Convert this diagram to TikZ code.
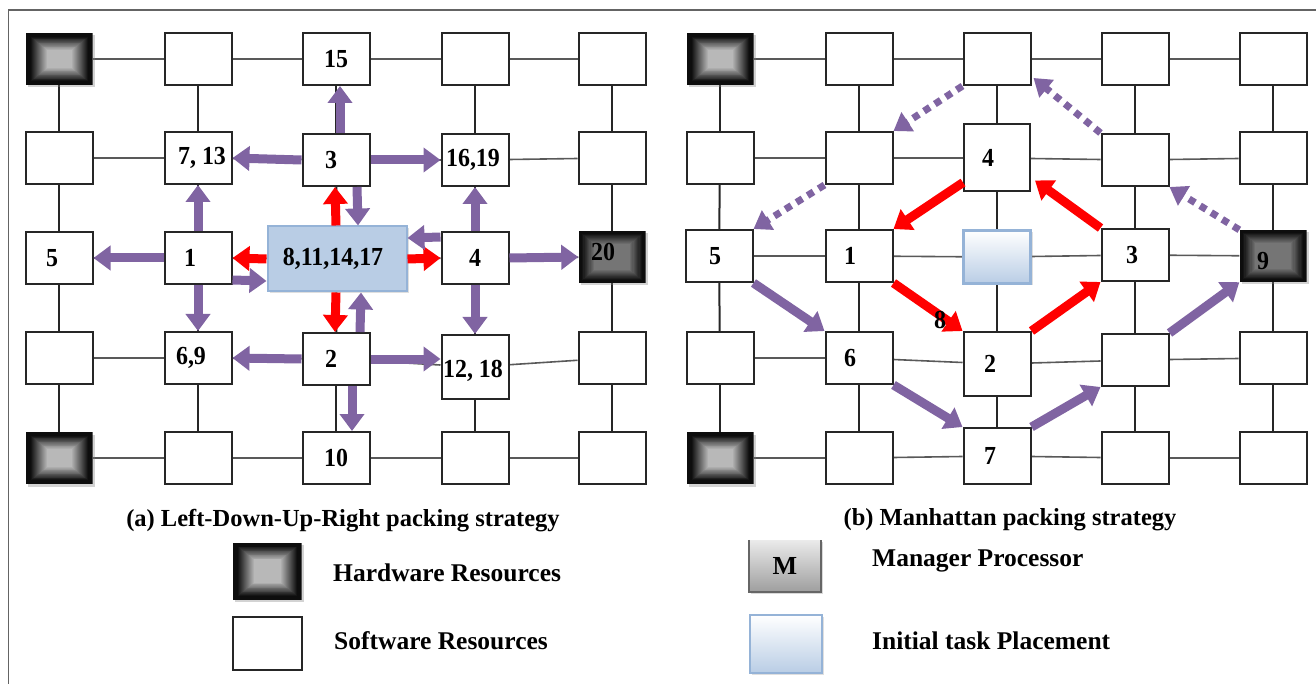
\documentclass[tikz,border=0pt]{standalone}
\usepackage{fontspec}
\setmainfont{Liberation Serif}
\newfontfamily\lblfam{Liberation Serif}[FakeStretch=0.92]
\usetikzlibrary{arrows.meta,shadows,backgrounds,calc}

\definecolor{arrowpurple}{RGB}{128,100,162}
\definecolor{arrowred}{RGB}{255,0,0}
\definecolor{taskfill}{RGB}{185,205,229}
\definecolor{taskedge}{RGB}{149,179,215}
\definecolor{framegray}{RGB}{100,100,100}

\newcommand\lblfont{\lblfam\bfseries\fontsize{26}{26}\selectfont}
\newcommand\capfont{\bfseries\fontsize{24.5}{25}\selectfont}
\newcommand\legfont{\bfseries\fontsize{25.5}{26}\selectfont}
% move a label inside its box without changing the box size
\newcommand\nudge[3]{\kern#1\relax\raisebox{#2}[\height][\depth]{#3}\kern-#1\relax}

\tikzset{
  sw/.style={draw=black!85, line width=2pt, fill=white, minimum width=67pt,
    minimum height=52pt, inner sep=0pt, font=\lblfont},
  hwbase/.style={minimum width=67pt, minimum height=52pt, inner sep=0pt, font=\lblfont,
    drop shadow={shadow xshift=2.5pt, shadow yshift=-2.5pt, opacity=0.35}},
  % dark frame fading to a lighter core
  hw/.style={hwbase, path picture={
    \foreach \k in {0,...,21}{
      \pgfmathtruncatemacro\tone{min(95,112-4*\k)}
      \fill[black!\tone] ($(path picture bounding box.south west)+(\k*1pt,\k*0.8pt)$)
        rectangle ($(path picture bounding box.north east)-(\k*1pt,\k*0.8pt)$);
    }}},
  hwd/.style={hwbase, path picture={
    \foreach \k in {0,...,13}{
      \pgfmathtruncatemacro\tone{min(95,104-3.8*\k)}
      \fill[black!\tone] ($(path picture bounding box.south west)+(\k*1.2pt,\k*1pt)$)
        rectangle ($(path picture bounding box.north east)-(\k*1.2pt,\k*1pt)$);
    }}},
  task/.style={draw=taskedge, fill=taskfill, line width=2pt, minimum width=139pt,
    minimum height=65pt, inner sep=0pt, font=\lblfont,
    drop shadow={shadow xshift=2pt, shadow yshift=-2pt, opacity=0.25}},
  taskgrad/.style={draw=taskedge, line width=2.5pt, top color=white, bottom color=taskfill,
    minimum width=67pt, minimum height=53pt, inner sep=0pt,
    drop shadow={shadow xshift=2pt, shadow yshift=-2pt, opacity=0.25}},
  hline/.style={draw=black!65, line width=1.6pt},
  vline/.style={draw=black!85, line width=2pt},
  parrow/.style={draw=arrowpurple, line width=9pt, -{Triangle[width=24pt,length=17pt]}},
  rarrow/.style={draw=arrowred, line width=9pt, -{Triangle[width=24pt,length=17pt]}},
  dparrow/.style={draw=arrowpurple, line width=7pt, dash pattern=on 7pt off 6pt,
    -{Triangle[width=22pt,length=17pt]}},
  captext/.style={font=\capfont, inner sep=0pt},
  legtext/.style={font=\legfont, inner sep=0pt, anchor=west},
}

\begin{document}
\begin{tikzpicture}[x=1pt,y=-1pt]
\useasboundingbox (0,0) rectangle (1316,684);
\draw[framegray, line width=1.5pt] (8.5,684) -- (8.5,10) -- (1316,10);

% ---------- left mesh: Left-Down-Up-Right packing ----------
\node[hw] (L11) at (59,59) {};
\node[sw] (L12) at (198,59) {};
\node[sw] (L13) at (336,59) {15};
\node[sw] (L14) at (475,59) {};
\node[sw] (L15) at (612,59) {};
\node[sw] (L21) at (59,158) {};
\node[sw] (L22) at (198,158) {\nudge{4pt}{0pt}{7, 13}};
\node[sw] (L23) at (336,160) {\nudge{-5pt}{0pt}{3}};
\node[sw] (L24) at (475,160) {\nudge{-2pt}{0pt}{16,19}};
\node[sw] (L25) at (612,158) {};
\node[sw] (L31) at (59,258) {\nudge{-7pt}{0pt}{5}};
\node[sw] (L32) at (198,258) {\nudge{-8pt}{0pt}{1}};
\node[task] (C) at (337,259) {\nudge{-4pt}{0pt}{8,11,14,17}};
\node[sw] (L34) at (475,258) {4};
\node[hwd] (L35) at (612,257) {\nudge{-9pt}{5pt}{20}};
\node[sw] (L41) at (59,358) {};
\node[sw] (L42) at (198,358) {\nudge{-7pt}{0pt}{6,9}};
\node[sw] (L43) at (336,359) {\nudge{-5pt}{0pt}{2}};
\node[sw, minimum height=64pt] (L44) at (475,367) {\nudge{-2pt}{-4pt}{12, 18}};
\node[sw] (L45) at (612,358) {};
\node[hw] (L51) at (59,458) {};
\node[sw] (L52) at (198,458) {};
\node[sw] (L53) at (336,458) {10};
\node[sw] (L54) at (475,458) {};
\node[sw] (L55) at (612,458) {};

% ---------- right mesh: Manhattan packing ----------
\node[hw] (R11) at (720,59) {};
\node[sw] (R12) at (859,59) {};
\node[sw] (R13) at (997,59) {};
\node[sw] (R14) at (1135,59) {};
\node[sw] (R15) at (1273,59) {};
\node[sw] (R21) at (720,158) {};
\node[sw] (R22) at (859,158) {};
\node[sw, minimum width=66pt, minimum height=67pt] (R23) at (997,158) {\nudge{-9pt}{0pt}{4}};
\node[sw] (R24) at (1135,160) {};
\node[sw] (R25) at (1273,158) {};
\node[sw] (R31) at (719,256) {\nudge{-4pt}{0pt}{5}};
\node[sw] (R32) at (859,256) {\nudge{-9pt}{0pt}{1}};
\node[taskgrad] (RC) at (997,257) {};
\node[sw] (R34) at (1135,255) {\nudge{-3pt}{0pt}{3}};
\node[hwd] (R35) at (1273,256) {\nudge{-10pt}{-5pt}{9}};
\node[sw] (R41) at (720,358) {};
\node[sw] (R42) at (859,358) {\nudge{-9pt}{0pt}{6}};
\node[sw, minimum height=64pt] (R43) at (997,364) {\nudge{-7pt}{0pt}{2}};
\node[sw] (R44) at (1135,360) {};
\node[sw] (R45) at (1273,358) {};
\node[hw] (R51) at (720,458) {};
\node[sw] (R52) at (859,458) {};
\node[sw, minimum height=56pt] (R53) at (997,456) {\nudge{-7pt}{0pt}{7}};
\node[sw] (R54) at (1135,458) {};
\node[sw] (R55) at (1273,458) {};

% mesh links behind the routers
\begin{scope}[on background layer]
\foreach \a/\b in {L11/L12,L12/L13,L13/L14,L14/L15,L21/L22,L22/L23,L23/L24,L24/L25,
    L31/L32,L32/C,C/L34,L34/L35,L41/L42,L42/L43,L43/L44,L44/L45,L51/L52,L52/L53,L53/L54,L54/L55,
    R11/R12,R12/R13,R13/R14,R14/R15,R21/R22,R22/R23,R23/R24,R24/R25,
    R31/R32,R32/RC,RC/R34,R34/R35,R41/R42,R42/R43,R43/R44,R44/R45,R51/R52,R52/R53,R53/R54,R54/R55}
  \draw[hline] (\a) -- (\b);
\foreach \a/\b in {L11/L21,L21/L31,L31/L41,L41/L51,L12/L22,L22/L32,L32/L42,L42/L52,
    L13/L23,L23/C,C/L43,L43/L53,L14/L24,L24/L34,L34/L44,L44/L54,L15/L25,L25/L35,L35/L45,L45/L55,
    R11/R21,R21/R31,R31/R41,R41/R51,R12/R22,R22/R32,R32/R42,R42/R52,
    R13/R23,R23/RC,RC/R43,R43/R53,R14/R24,R24/R34,R34/R44,R44/R54,R15/R25,R25/R35,R35/R45,R45/R55}
  \draw[vline] (\a) -- (\b);
\end{scope}

% ---------- left mesh arrows ----------
\draw[parrow] ([xshift=4pt]L23.north) -- ([xshift=4pt]L13.south);
\draw[parrow] (L23.west) -- (L22.east);
\draw[parrow] (L23.east) -- (L24.west);
\draw[rarrow] ([xshift=-1pt]C.north) -- ([xshift=-1pt]L23.south);
\draw[parrow] ([xshift=21pt]L23.south) -- ([xshift=21pt]C.north);
\draw[rarrow] ([xshift=-1pt]C.south) -- ([xshift=-1pt]L43.north);
\draw[parrow] ([xshift=24pt]L43.north) -- ([xshift=24pt]C.south);
\draw[parrow] ([xshift=16pt]L43.south) -- ([xshift=16pt]L53.north);
\draw[rarrow] (C.west) -- (L32.east);
\draw[parrow] ([yshift=-22pt]L32.east) -- ([yshift=-22pt]C.west);
\draw[rarrow] (C.east) -- (L34.west);
\draw[parrow] ([yshift=21pt]L34.west) -- ([yshift=21pt]C.east);
\draw[parrow] (L32.west) -- (L31.east);
\draw[parrow] (L32.north) -- (L22.south);
\draw[parrow] (L32.south) -- (L42.north);
\draw[parrow] (L43.west) -- (L42.east);
\draw[parrow] (L43.east) -- (L43.east -| L44.west);
\draw[parrow] (L34.north) -- (L24.south);
\draw[parrow] (L34.south) -- (L44.north);
\draw[parrow] (L34.east) -- (L35.west);

% ---------- right mesh arrows ----------
\draw[dparrow] (R13.south west) -- (R22.north east);
\draw[dparrow] (R22.south west) -- (R31.north east);
\draw[dparrow] (R24.north west) -- ([xshift=2pt,yshift=8pt]R13.south east);
\draw[dparrow] (R35.north west) -- (R24.south east);
\draw[rarrow] ([yshift=10pt]R23.south west) -- (R32.north east);
\draw[rarrow] (R34.north west) -- ([xshift=4pt,yshift=12pt]R23.south east);
\draw[rarrow] (R32.south east) -- (R43.north west);
\draw[rarrow] (R43.north east) -- (R34.south west);
\draw[parrow] (R31.south east) -- (R42.north west);
\draw[parrow] (R42.south east) -- (R53.north west);
\draw[parrow] (R53.north east) -- (R44.south west);
\draw[parrow] (R44.north east) -- (R35.south west);
\node[font=\lblfont, inner sep=0pt] (lbl8) at (940,320) {8};

% ---------- captions ----------
\node[captext] (capa) at (343,521) {(a) Left-Down-Up-Right packing strategy};
\node[captext] (capb) at (1010,520) {(b) Manhattan packing strategy};

% ---------- legend ----------
\node[hw, minimum width=69pt, minimum height=57pt] (leghw) at (267,571) {};
\node[sw, minimum width=69pt, minimum height=53pt] (legsw) at (267,643) {};
\node[legtext] (leghwt) at (333,573) {Hardware Resources};
\node[legtext] (legswt) at (334,641) {Software Resources};

\node[top color=black!8, bottom color=black!38, minimum width=72pt, minimum height=52pt,
  inner sep=0pt, font=\bfseries\fontsize{26}{26}\selectfont,
  drop shadow={shadow xshift=2pt, shadow yshift=-2pt, opacity=0.3}] (legm) at (785,566) {M};
\draw[black!60, line width=2.5pt] (legm.north west) -- (legm.south west)
  -- (legm.south east) -- (legm.north east);
\node[taskgrad, minimum width=72pt, minimum height=58pt] (legtask) at (786,644) {};
\node[legtext] (legmt) at (872,561) {Manager Processor};
\node[legtext] (legtaskt) at (872,641) {Initial task Placement};
\end{tikzpicture}
\end{document}
